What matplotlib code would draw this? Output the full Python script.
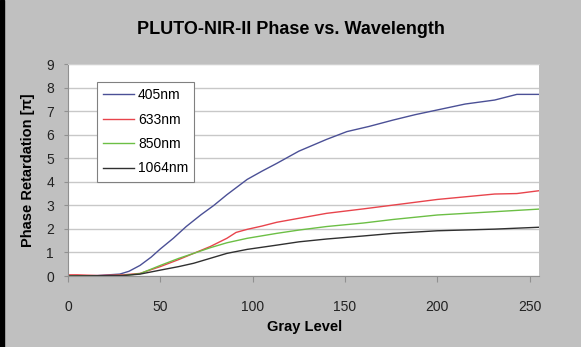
import matplotlib
matplotlib.use("Agg")
import matplotlib.pyplot as plt

# gray level vs. phase retardation (units of pi)
x_405 = [0, 16, 28, 33, 39, 45, 50, 57, 64, 72, 79, 86, 97, 105, 113, 125, 140, 151, 163, 176, 188, 200, 215, 231, 243, 255]
y_405 = [0, 0.02, 0.08, 0.2, 0.45, 0.8, 1.15, 1.6, 2.1, 2.6, 3.0, 3.45, 4.1, 4.45, 4.78, 5.3, 5.8, 6.13, 6.35, 6.62, 6.85, 7.05, 7.3, 7.47, 7.71, 7.71]

x_633 = [0, 5, 16, 30, 39, 50, 60, 68, 77, 86, 91, 97, 105, 113, 125, 140, 160, 176, 200, 231, 243, 255]
y_633 = [0.05, 0.05, 0.02, 0.05, 0.11, 0.4, 0.7, 0.96, 1.25, 1.6, 1.85, 1.98, 2.12, 2.28, 2.45, 2.66, 2.85, 3.01, 3.25, 3.48, 3.5, 3.62]

x_850 = [0, 30, 39, 50, 60, 68, 77, 86, 97, 113, 125, 140, 160, 176, 200, 231, 255]
y_850 = [0, 0.02, 0.1, 0.45, 0.75, 0.96, 1.2, 1.41, 1.6, 1.81, 1.95, 2.1, 2.25, 2.4, 2.59, 2.73, 2.84]

x_1064 = [0, 30, 39, 50, 60, 68, 77, 86, 97, 113, 125, 140, 160, 176, 200, 231, 255]
y_1064 = [0, 0.02, 0.08, 0.25, 0.4, 0.54, 0.75, 0.96, 1.13, 1.31, 1.45, 1.57, 1.7, 1.81, 1.92, 1.99, 2.07]

labels = ["405nm", "633nm", "850nm", "1064nm"]
colors = ["#4b5096", "#e8444c", "#6cbf45", "#303030"]

x_ticks = [0, 50, 100, 150, 200, 250]
y_ticks = list(range(10))

plt.rcParams["font.family"] = ["Liberation Sans", "DejaVu Sans"]

bg = "#c0c0c0"
fig = plt.figure(figsize=(5.81, 3.47), dpi=100, facecolor=bg)
ax = fig.add_axes([68 / 581, 71 / 347, 471 / 581, 212 / 347])
ax.set_facecolor("white")

series = [(x_405, y_405), (x_633, y_633), (x_850, y_850), (x_1064, y_1064)]
for (xs, ys), lab, col in zip(series, labels, colors):
    ax.plot(xs, ys, color=col, lw=1.0, label=lab)

ax.set_xlim(0, 255)
ax.set_ylim(0, 9)
ax.set_xticks(x_ticks)
ax.set_yticks(y_ticks)
ax.grid(axis="y", color="#c8c8c8", lw=1.0)
ax.set_axisbelow(True)
ax.spines["right"].set_visible(False)
ax.spines["top"].set_color("#d0d0d0")
ax.spines["left"].set_color("#909090")
ax.spines["bottom"].set_color("#909090")
ax.tick_params(axis="x", length=4, width=0.8, color="#909090", pad=13,
               labelsize=10, labelcolor="#222222")
ax.tick_params(axis="y", length=3, width=0.8, color="#909090", pad=7,
               labelsize=10, labelcolor="#222222")

leg = ax.legend(loc="upper left", bbox_to_anchor=(29 / 471, 194 / 212),
                borderaxespad=0, fontsize=10, handlelength=2.2,
                handletextpad=0.3, labelspacing=0.75, borderpad=0.45,
                fancybox=False, framealpha=1, edgecolor="#808080")
leg.get_frame().set_linewidth(0.8)

fig.text(0.5, 1 - 30 / 347, "PLUTO-NIR-II Phase vs. Wavelength",
         ha="center", va="center", fontsize=13, fontweight="bold")
fig.text(305 / 581, 1 - 327 / 347, "Gray Level", ha="center", va="center",
         fontsize=10.5, fontweight="bold")
fig.text(28 / 581, 1 - 170 / 347, "Phase Retardation [π]", ha="center",
         va="center", rotation=90, fontsize=10.5, fontweight="bold")

# black strip on the left edge of the original screenshot
fig.patches.append(plt.Rectangle((0, 0), 4 / 581, 1, transform=fig.transFigure,
                                 color="black", zorder=0))

fig.savefig("out.png", dpi=100, facecolor=bg)
